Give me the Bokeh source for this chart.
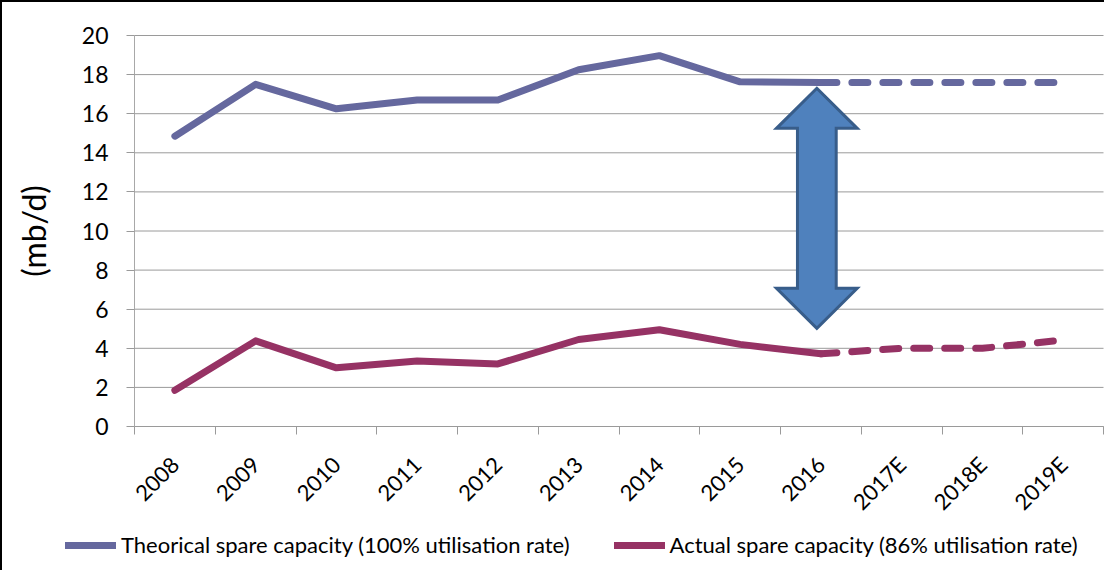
import math
from bokeh.plotting import figure
from bokeh.models import Range1d, FixedTicker, Legend, LegendItem
from bokeh.embed import file_html
from bokeh.resources import INLINE

years = ["2008", "2009", "2010", "2011", "2012", "2013", "2014", "2015",
         "2016", "2017E", "2018E", "2019E"]
theoretical = [14.85, 17.5, 16.25, 16.7, 16.7, 18.25, 18.97, 17.63, 17.6, 17.6, 17.6, 17.6]
actual = [1.85, 4.38, 3.0, 3.35, 3.2, 4.45, 4.95, 4.2, 3.72, 4.0, 4.0, 4.42]
y_ticks = list(range(0, 21, 2))
last_actual_idx = 8  # 2016, estimates follow (dashed)

FONT = "Lato"
C_THEO = "#65689E"
C_ACT = "#963264"
GRID = "#9A9A9A"
LW = 7

# layout (screen px) of the plotting area inside the 1104x570 canvas
W, H = 1104, 570
AX_LEFT, AX_RIGHT, AX_TOP, AX_BOTTOM = 132, 1101, 33, 424
n = len(years)
ymax = y_ticks[-1]
px_x = (AX_RIGHT - AX_LEFT) / n
px_y = (AX_BOTTOM - AX_TOP) / ymax
x0 = -AX_LEFT / px_x
y1 = AX_BOTTOM / px_y

xc = [i + 0.5 for i in range(n)]

p = figure(width=W, height=H, output_backend="svg", toolbar_location=None,
           x_range=Range1d(x0, x0 + W / px_x), y_range=Range1d(y1 - H / px_y, y1),
           min_border_left=0, min_border_right=0, min_border_top=0, min_border_bottom=0)
p.styles = {"border-left": "2px solid black", "border-top": "2px solid black"}
p.outline_line_color = None
p.background_fill_color = "white"
p.border_fill_color = "white"
p.xgrid.grid_line_color = None
p.ygrid.grid_line_color = None

# horizontal gridlines over the category span
p.segment(x0=[0] * len(y_ticks), x1=[n] * len(y_ticks), y0=y_ticks, y1=y_ticks,
          line_color=GRID, line_width=1)

# y axis
p.yaxis.fixed_location = 0
p.yaxis.bounds = (0, ymax)
p.yaxis.ticker = FixedTicker(ticks=y_ticks)
p.yaxis.axis_line_color = "#A8A8A8"
p.yaxis.major_tick_line_color = GRID
p.yaxis.major_tick_out = 8
p.yaxis.major_tick_in = 0
p.yaxis.minor_tick_line_color = None
p.yaxis.major_label_text_font = FONT
p.yaxis.major_label_text_font_size = "23px"
p.yaxis.major_label_text_color = "black"
p.yaxis.major_label_standoff = 18
p.yaxis.axis_label = "(mb/d)"
p.yaxis.axis_label_text_font = FONT
p.yaxis.axis_label_text_font_size = "32px"
p.yaxis.axis_label_text_font_style = "normal"
p.yaxis.axis_label_text_color = "black"
p.yaxis.axis_label_standoff = 26

# x axis (ticks at category boundaries, labels at centres)
p.xaxis.fixed_location = 0
p.xaxis.bounds = (0, n)
p.xaxis.ticker = FixedTicker(ticks=xc, minor_ticks=list(range(0, n + 1)))
p.xaxis.major_label_overrides = {x: y for x, y in zip(xc, years)}
p.xaxis.major_tick_line_color = None
p.xaxis.minor_tick_line_color = GRID
p.xaxis.minor_tick_out = 8
p.xaxis.minor_tick_in = 0
p.xaxis.axis_line_color = GRID
p.xaxis.major_label_orientation = math.pi / 4
p.xaxis.major_label_text_font = FONT
p.xaxis.major_label_text_font_size = "22px"
p.xaxis.major_label_text_color = "black"
p.xaxis.major_label_standoff = 26

# lines
k = last_actual_idx
r_theo = p.line(xc[:k + 1], theoretical[:k + 1], line_color=C_THEO, line_width=LW,
                line_cap="round", line_join="round")
p.line(xc[k:], theoretical[k:], line_color=C_THEO, line_width=LW,
       line_cap="round", line_join="round", line_dash="16 15")
r_act = p.line(xc[:k + 1], actual[:k + 1], line_color=C_ACT, line_width=LW,
               line_cap="round", line_join="round")
p.line(xc[k:], actual[k:], line_color=C_ACT, line_width=LW,
       line_cap="round", line_join="round", line_dash="16 15")

# double arrow annotation between the two series at 2016
ax = xc[k] - 0.05
top = theoretical[k] - 0.3
bot = actual[k] + 1.3
head = 2.05
hw, sw = 0.5, 0.24
arrow_x = [ax, ax + hw, ax + sw, ax + sw, ax + hw, ax, ax - hw, ax - sw, ax - sw, ax - hw, ax]
arrow_y = [top, top - head, top - head, bot + head, bot + head, bot, bot + head, bot + head,
           top - head, top - head, top]
p.patch(arrow_x, arrow_y, fill_color="#4F81BD", line_color="#385D8A", line_width=3,
        line_join="miter")

legend = Legend(items=[
    LegendItem(label="Theorical spare capacity (100% utilisation rate)", renderers=[r_theo]),
    LegendItem(label="Actual spare capacity (86% utilisation rate)", renderers=[r_act]),
], orientation="horizontal", location=(63, 14))
legend.label_text_font = FONT
legend.label_text_font_size = "22px"
legend.label_text_color = "black"
legend.glyph_width = 51
legend.label_standoff = 5
legend.spacing = 44
legend.padding = 0
legend.margin = 0
legend.border_line_color = None
legend.background_fill_alpha = 0
p.add_layout(legend, "center")

open("out.html", "w").write(file_html(p, INLINE))
